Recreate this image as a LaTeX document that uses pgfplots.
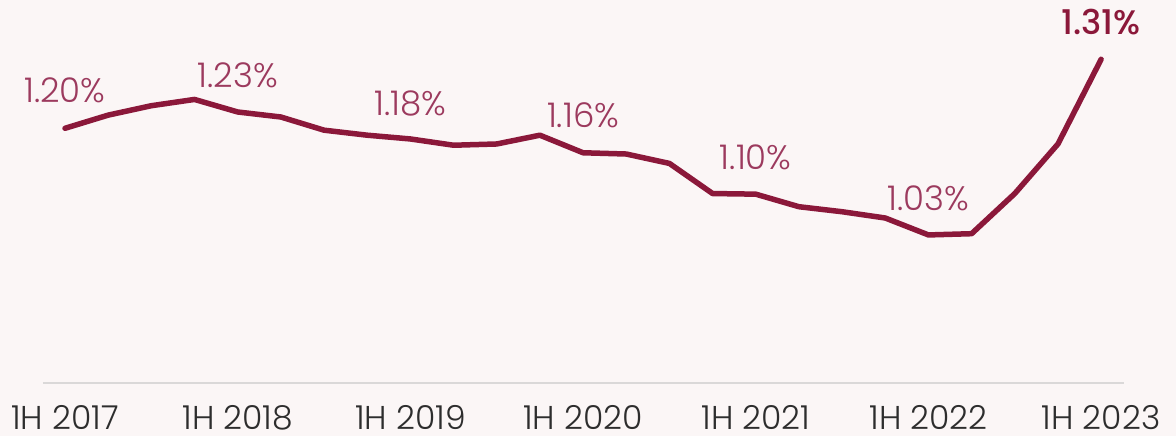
\documentclass[border=0pt]{standalone}
\usepackage{fontspec}
\setmainfont{Poppins}[UprightFont=* Light, BoldFont=* Medium]
\usepackage{pgfplots}
\pgfplotsset{compat=1.18}

\definecolor{bg}{RGB}{251,246,246}
\definecolor{wine}{RGB}{139,24,58}
\definecolor{winelt}{RGB}{156,58,94}
\definecolor{axisgray}{RGB}{218,216,216}
\definecolor{ticktext}{RGB}{45,45,45}

\begin{document}
\begin{tikzpicture}
\useasboundingbox (-43bp,-53bp) rectangle (1133bp,383bp);
\fill[bg] (-43bp,-53bp) rectangle (1133bp,383bp);
\begin{axis}[
  scale only axis,
  width=1081bp, height=383bp,
  xmin=-0.51, xmax=24.53, ymin=0.794, ymax=1.4045,
  axis x line*=bottom, axis y line=none,
  x axis line style={draw=axisgray, line width=2bp, -},
  major tick length=0pt,
  xtick={0,4,8,12,16,20,24},
  xticklabels={1H 2017,1H 2018,1H 2019,1H 2020,1H 2021,1H 2022,1H 2023},
  xticklabel style={font=\fontsize{33bp}{40bp}\selectfont, text=ticktext,
    anchor=base, inner sep=0pt, yshift=-46bp},
  clip=false,
]
% quarterly ratio
\addplot[wine, line width=5.5bp, line cap=round, line join=round] coordinates {
  (0,1.200) (1,1.221) (2,1.236) (3,1.246) (4,1.226) (5,1.218) (6,1.197)
  (7,1.189) (8,1.183) (9,1.173) (10,1.175) (11,1.189) (12,1.161) (13,1.159)
  (14,1.144) (15,1.096) (16,1.095) (17,1.075) (18,1.067) (19,1.057) (20,1.030)
  (21,1.032) (22,1.096) (23,1.175) (24,1.310)
};

\begin{scope}[every node/.style={font=\fontsize{34bp}{40bp}\selectfont, text=winelt}]
\node at (axis cs:0,1.261) {1.20\%};
\node at (axis cs:4,1.285) {1.23\%};
\node at (axis cs:8,1.240) {1.18\%};
\node at (axis cs:12,1.221) {1.16\%};
\node at (axis cs:16,1.154) {1.10\%};
\node at (axis cs:20,1.089) {1.03\%};
\end{scope}
\node[font=\fontsize{34bp}{40bp}\selectfont\bfseries, text=wine] at (axis cs:24,1.369) {1.31\%};
\end{axis}
\end{tikzpicture}
\end{document}
